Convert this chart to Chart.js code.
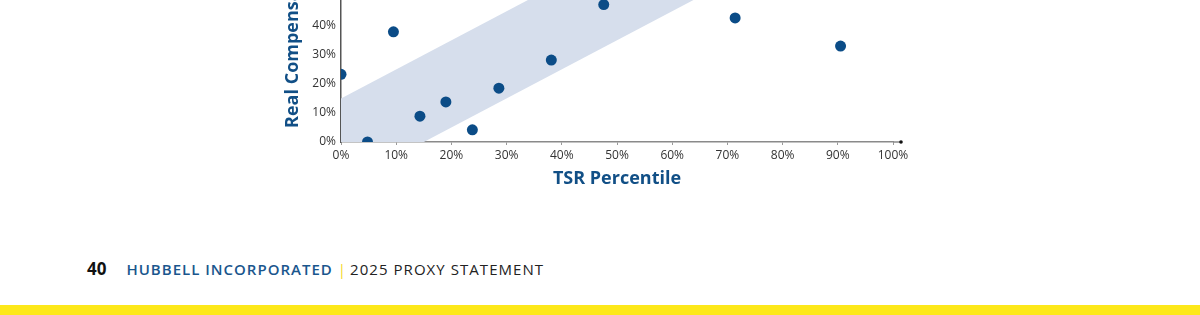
<!DOCTYPE html>
<html>
<head>
<meta charset="utf-8">
<script src="https://cdn.jsdelivr.net/npm/chart.js@4.4.1/dist/chart.umd.min.js"></script>
<style>
  html, body { margin: 0; padding: 0; background: #fff; }
  body { width: 1200px; height: 315px; position: relative; overflow: hidden; font-family: "Open Sans", sans-serif; }
  #wrap { position: absolute; left: 0; top: -99px; width: 1200px; height: 300px; }
  #footer { position: absolute; left: 87px; top: 257px; font-size: 15px; white-space: nowrap; }
  #footer .page { font-weight: 700; color: #111; font-size: 17px; margin-right: 20px; }
  #footer .co { font-weight: 600; color: #1a568d; letter-spacing: 1px; }
  #footer .sep { color: #f3d81c; margin: 0 4px 0 5px; }
  #footer .doc { color: #222; letter-spacing: 1.05px; }
  #bar { position: absolute; left: 0; top: 305px; width: 1200px; height: 10px; background: #fde81a; }
</style>
</head>
<body>
<div id="wrap"><canvas id="graficoTsr"></canvas></div>
<div id="footer"><span class="page">40</span><span class="co">HUBBELL INCORPORATED</span><span class="sep">|</span><span class="doc">2025 PROXY STATEMENT</span></div>
<div id="bar"></div>
<script>
// pontos: percentil TSR x compensacao real
var tsrPercentil = [0, 4.8, 9.5, 14.3, 19.0, 23.8, 28.6, 38.1, 47.6, 71.4, 90.5];
var compensacaoReal = [23.3, 0, 37.9, 8.9, 13.8, 4.2, 18.5, 28.2, 47.3, 42.7, 33.0];

// faixa de alinhamento (limites inferior e superior)
var faixaX = [0, 100];
var faixaInferior = [-15, 85];
var faixaSuperior = [15, 115];

var azul = '#0b4c87';
var azulTexto = '#114f86';
var fonte = '"Open Sans", sans-serif';

var pontos = tsrPercentil.map(function (x, i) { return { x: x, y: compensacaoReal[i] }; });
var linhaInferior = faixaX.map(function (x, i) { return { x: x, y: faixaInferior[i] }; });
var linhaSuperior = faixaX.map(function (x, i) { return { x: x, y: faixaSuperior[i] }; });

// prolonga o eixo x um pouco alem de 100% e poe o ponto no fim
var pontaDoEixo = {
    id: 'pontaDoEixo',
    afterDraw: function (chart) {
        var ctx = chart.ctx;
        var a = chart.chartArea;
        ctx.save();
        ctx.strokeStyle = '#8a8a8a';
        ctx.lineWidth = 1.5;
        ctx.beginPath();
        ctx.moveTo(a.right, a.bottom);
        ctx.lineTo(a.right + 8, a.bottom);
        ctx.stroke();
        ctx.fillStyle = '#111';
        ctx.beginPath();
        ctx.arc(a.right + 8, a.bottom, 1.8, 0, Math.PI * 2);
        ctx.fill();
        ctx.restore();
    }
};

var ctx = document.getElementById('graficoTsr');
var grafico = new Chart(ctx, {
    type: 'scatter',
    data: {
        datasets: [
            {
                data: linhaInferior,
                showLine: true,
                borderWidth: 0,
                pointRadius: 0,
                fill: false,
                clip: 0,
                order: 2
            },
            {
                data: linhaSuperior,
                showLine: true,
                borderWidth: 0,
                pointRadius: 0,
                fill: '-1',
                backgroundColor: '#d6deec',
                clip: 0,
                order: 2
            },
            {
                data: pontos,
                pointRadius: 5.5,
                pointHoverRadius: 5.5,
                backgroundColor: azul,
                borderColor: azul,
                borderWidth: 0,
                clip: 0,
                order: 1
            }
        ]
    },
    options: {
        responsive: true,
        maintainAspectRatio: false,
        animation: false,
        events: [],
        layout: { padding: { left: 280, right: 307, top: 39, bottom: 0 } },
        plugins: {
            legend: { display: false },
            tooltip: { enabled: false },
            filler: { propagate: false }
        },
        scales: {
            x: {
                type: 'linear',
                min: 0,
                max: 100,
                afterFit: function (scale) { scale.height = 59; },
                grid: { drawOnChartArea: false, drawTicks: true, tickLength: 3, color: '#999' },
                border: { display: true, color: '#8a8a8a', width: 1.5 },
                ticks: {
                    stepSize: 10,
                    padding: 3,
                    color: '#333',
                    font: { family: fonte, size: 12 },
                    callback: function (v) { return v + '%'; }
                },
                title: {
                    display: true,
                    text: 'TSR Percentile',
                    color: azulTexto,
                    font: { family: fonte, size: 18, weight: 'bold' },
                    padding: { top: 0, bottom: 11 }
                }
            },
            y: {
                type: 'linear',
                min: 0,
                max: 69.5,
                afterFit: function (scale) { scale.width = 61; },
                grid: { drawOnChartArea: false, drawTicks: false },
                border: { display: true, color: '#555', width: 1.5 },
                ticks: {
                    stepSize: 10,
                    padding: 5,
                    color: '#333',
                    font: { family: fonte, size: 12 },
                    callback: function (v) { return v + '%'; }
                },
                title: {
                    display: true,
                    text: 'Real Compensation',
                    color: azulTexto,
                    font: { family: fonte, size: 18, weight: 'bold' },
                    padding: { top: 2, bottom: 0 }
                }
            }
        }
    },
    plugins: [pontaDoEixo]
});
</script>
</body>
</html>
